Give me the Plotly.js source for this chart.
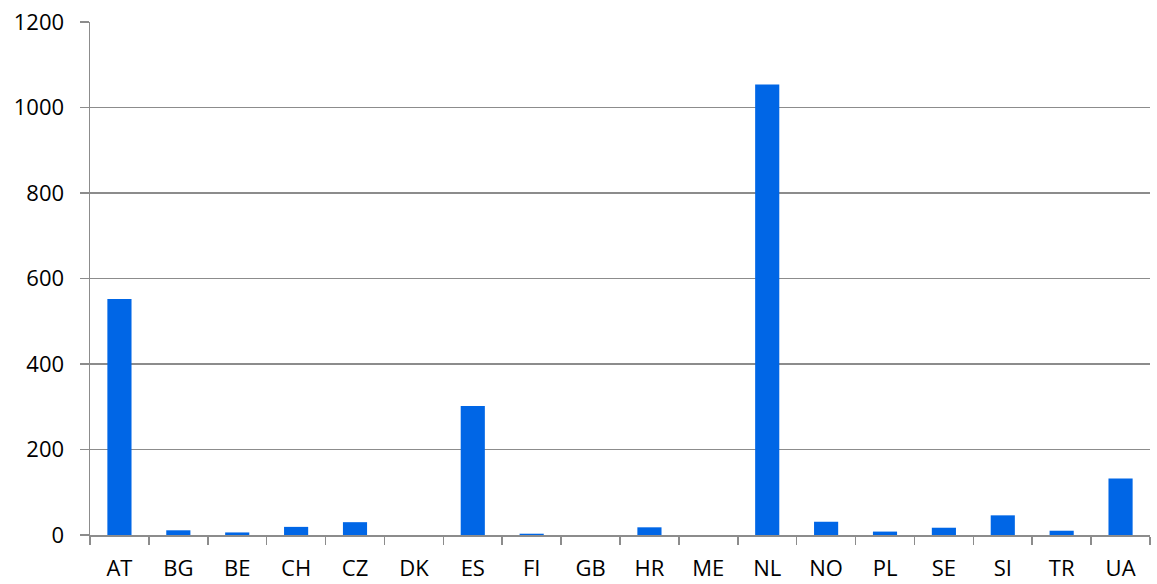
<!DOCTYPE html>
<html>
<head>
<meta charset="utf-8">
<script src="https://cdn.plot.ly/plotly-3.0.1.min.js"></script>
<style>html,body{margin:0;padding:0;background:#fff;}#chart{width:1157px;height:584px;}</style>
</head>
<body>
<div id="chart"></div>
<script>
const countries = ["AT","BG","BE","CH","CZ","DK","ES","FI","GB","HR","ME","NL","NO","PL","SE","SI","TR","UA"];
const values = [552, 11, 6, 19, 30, 0, 302, 3, 0, 18, 0, 1054, 31, 8, 17, 46, 10, 132];
const yTicks = [0, 200, 400, 600, 800, 1000, 1200];

const gridColor = "#8c8c8c";
const fontSpec = {family: "Open Sans, sans-serif", size: 22, color: "#000"};

Plotly.newPlot("chart", [{
  type: "bar",
  x: countries,
  y: values,
  marker: {color: "#0066E6", line: {width: 0}},
  hoverinfo: "x+y"
}], {
  width: 1157,
  height: 584,
  margin: {l: 90, r: 7, t: 22, b: 49},
  paper_bgcolor: "#fff",
  plot_bgcolor: "#fff",
  bargap: 0.59,
  showlegend: false,
  font: fontSpec,
  xaxis: {
    type: "category",
    showline: true,
    linecolor: gridColor,
    linewidth: 1.5,
    ticks: "outside",
    tickson: "boundaries",
    ticklen: 8,
    tickcolor: gridColor,
    tickwidth: 1.5,
    showgrid: false,
    tickfont: fontSpec,
    ticklabelstandoff: 13
  },
  yaxis: {
    range: [0, 1200],
    tickvals: yTicks,
    ticktext: yTicks.map(String),
    showline: true,
    linecolor: gridColor,
    linewidth: 1.5,
    ticks: "outside",
    ticklen: 9,
    tickcolor: gridColor,
    tickwidth: 1.5,
    showgrid: true,
    gridcolor: gridColor,
    gridwidth: 1.5,
    zeroline: false,
    tickfont: fontSpec,
    ticklabelstandoff: 11
  }
}, {displayModeBar: false, staticPlot: true});
</script>
</body>
</html>
